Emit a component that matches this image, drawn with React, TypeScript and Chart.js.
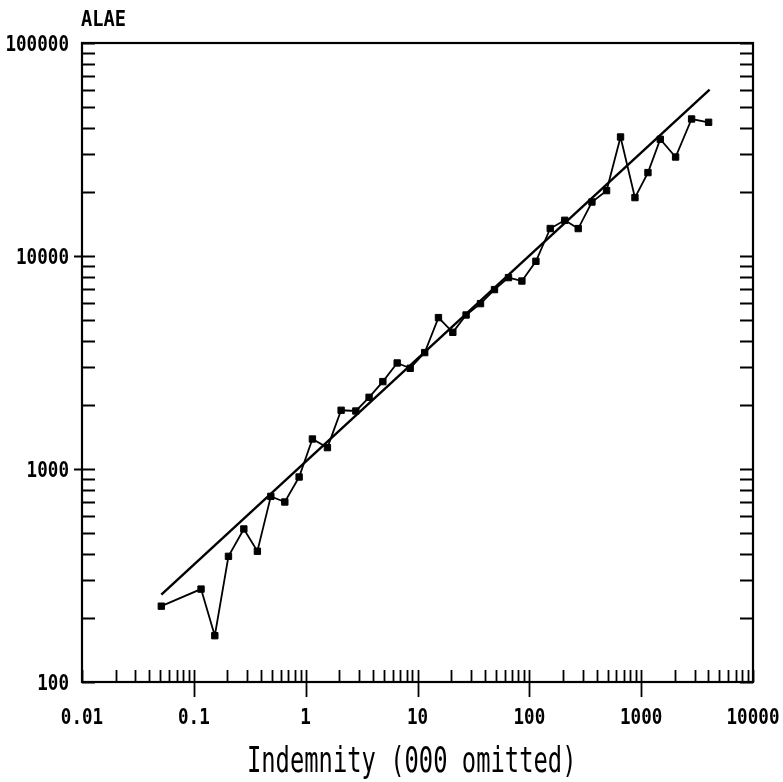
import React, { useEffect, useRef } from "react";
import { Chart, registerables } from "chart.js";

Chart.register(...registerables);

// Indemnity (thousands) and ALAE observations
const indemnity = [
  0.0512, 0.116, 0.154, 0.204, 0.28, 0.37, 0.488, 0.651, 0.874, 1.149, 1.565,
  2.075, 2.81, 3.69, 4.9, 6.58, 8.6, 11.6, 15.4, 20.7, 27.2, 36.6, 48.8, 65.1,
  85.8, 114.5, 153.8, 207.3, 273.6, 362.9, 490.5, 654, 880, 1150, 1482, 2032,
  2825, 4009,
];
const alae = [
  227, 273, 165, 389, 523, 411, 744, 700, 917, 1383, 1260, 1887, 1872, 2171,
  2572, 3146, 2970, 3520, 5137, 4383, 5285, 5976, 6955, 7917, 7630, 9443,
  13460, 14713, 13450, 17925, 20277, 36205, 18800, 24637, 35316, 29155, 43977,
  42438,
];
// Fitted regression line end points
const fitX = [0.0512, 4093];
const fitY = [257, 60420];

const xTickLabels = ["0.01", "0.1", "1", "10", "100", "1000", "10000"];
const yTickLabels = ["100", "1000", "10000", "100000"];
const xTitle = "Indemnity (000 omitted)";
const yTitle = "ALAE";

const FONT = '"DejaVu Sans Mono", "Liberation Mono", monospace';

function buildTicks(labels: string[]) {
  const majors = labels.map(Number);
  const out: { value: number; major: boolean }[] = [];
  majors.forEach((m, i) => {
    out.push({ value: m, major: true });
    if (i < majors.length - 1) {
      for (let k = 2; k <= 9; k++) out.push({ value: m * k, major: false });
    }
  });
  return out;
}

function condensedText(
  ctx: CanvasRenderingContext2D,
  text: string,
  x: number,
  y: number,
  font: string,
  sx: number,
  align: CanvasTextAlign,
  baseline: CanvasTextBaseline
) {
  ctx.save();
  ctx.font = font;
  ctx.fillStyle = "#000";
  ctx.textAlign = align;
  ctx.textBaseline = baseline;
  ctx.translate(x, y);
  ctx.scale(sx, 1);
  ctx.fillText(text, 0, 0);
  ctx.restore();
}

const framePlugin = {
  id: "frame",
  afterDraw(chart: any) {
    const ctx: CanvasRenderingContext2D = chart.ctx;
    const { left, right, top, bottom } = chart.chartArea;
    const xs = chart.scales.x;
    const ys = chart.scales.y;
    ctx.save();
    ctx.strokeStyle = "#000";
    ctx.lineWidth = 2.2;
    ctx.strokeRect(left, top, right - left, bottom - top);
    ctx.lineWidth = 1.8;
    ctx.beginPath();
    // x ticks
    buildTicks(xTickLabels).forEach((t, i, arr) => {
      const px = Math.round(xs.getPixelForValue(t.value)) + 0.5;
      ctx.moveTo(px, bottom - 12);
      const isEnd = i === 0 || i === arr.length - 1;
      ctx.lineTo(px, t.major && !isEnd ? bottom + 15 : bottom);
    });
    // y ticks left & right
    buildTicks(yTickLabels).forEach((t, i, arr) => {
      const py = Math.round(ys.getPixelForValue(t.value)) + 0.5;
      const isEnd = i === 0 || i === arr.length - 1;
      ctx.moveTo(t.major && !isEnd ? left - 8 : left, py);
      ctx.lineTo(left + 13, py);
      ctx.moveTo(right - 13, py);
      ctx.lineTo(right, py);
    });
    ctx.stroke();
    ctx.restore();

    const tickFont = `bold 22px ${FONT}`;
    xTickLabels.forEach((lab) => {
      const px = xs.getPixelForValue(Number(lab));
      condensedText(ctx, lab, px, 724, tickFont, 0.8, "center", "alphabetic");
    });
    yTickLabels.forEach((lab) => {
      const py = ys.getPixelForValue(Number(lab));
      condensedText(ctx, lab, 69, py + 8, tickFont, 0.8, "right", "alphabetic");
    });
    condensedText(ctx, yTitle, 81, 26, `bold 22px ${FONT}`, 0.85, "left", "alphabetic");
    condensedText(ctx, xTitle, 411.7, 771.5, `35px ${FONT}`, 0.68, "center", "alphabetic");
  },
};

export default function App() {
  const ref = useRef<HTMLCanvasElement | null>(null);
  useEffect(() => {
    if (!ref.current) return;
    const chart = new Chart(ref.current, {
      type: "scatter",
      data: {
        datasets: [
          {
            label: "ALAE",
            data: indemnity.map((x, i) => ({ x, y: alae[i] })),
            showLine: true,
            borderColor: "#000",
            backgroundColor: "#000",
            borderWidth: 1.8,
            pointStyle: "rect",
            pointRadius: 4.5,
            pointBorderWidth: 1,
            tension: 0,
          },
          {
            label: "Fit",
            data: fitX.map((x, i) => ({ x, y: fitY[i] })),
            showLine: true,
            borderColor: "#000",
            borderWidth: 2.4,
            pointRadius: 0,
            tension: 0,
          },
        ],
      },
      options: {
        responsive: false,
        animation: false,
        layout: { padding: { left: 0, top: 43, right: 30, bottom: 0 } },
        plugins: {
          legend: { display: false },
          tooltip: { enabled: false },
          title: { display: false },
        },
        scales: {
          x: {
            type: "logarithmic",
            min: 0.01,
            max: 10000,
            grid: { display: false },
            border: { display: false },
            ticks: { display: false },
            afterFit: (s: any) => {
              s.height = 100;
            },
          },
          y: {
            type: "logarithmic",
            min: 100,
            max: 100000,
            grid: { display: false },
            border: { display: false },
            ticks: { display: false },
            afterFit: (s: any) => {
              s.width = 82;
            },
          },
        },
      },
      plugins: [framePlugin],
    });
    return () => chart.destroy();
  }, []);
  return (
    <div style={{ position: "fixed", left: 0, top: 0, width: 783, height: 782, background: "#fff" }}>
      <canvas ref={ref} width={783} height={782} />
    </div>
  );
}
